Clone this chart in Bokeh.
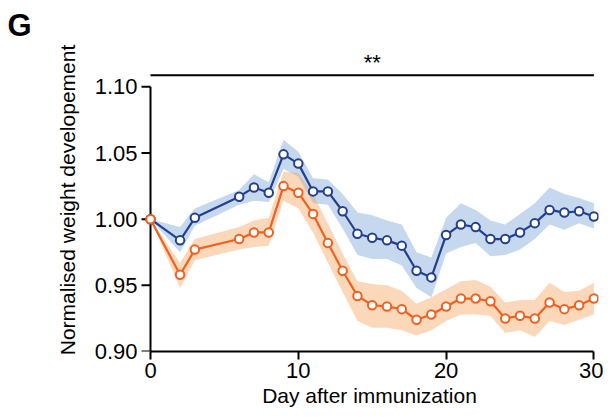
from math import pi
from bokeh.plotting import figure
from bokeh.models import Range1d, FixedTicker, Label, ColumnDataSource
from bokeh.embed import file_html
from bokeh.resources import INLINE

# ---------------- data ----------------
days = [0, 2, 3, 6, 7, 8, 9, 10, 11, 12, 13, 14, 15, 16, 17, 18, 19, 20,
        21, 22, 23, 24, 25, 26, 27, 28, 29, 30]

blue_mean = [1.000, 0.984, 1.001, 1.017, 1.024, 1.020, 1.049, 1.042, 1.021, 1.021,
             1.006, 0.989, 0.986, 0.984, 0.980, 0.961, 0.956, 0.988,
             0.996, 0.994, 0.985, 0.985, 0.990, 0.997, 1.007, 1.005, 1.006, 1.002]
blue_upper = [1.000, 0.994, 1.008, 1.022, 1.034, 1.028, 1.060, 1.051, 1.031, 1.030,
              1.019, 1.005, 1.003, 0.999, 0.996, 0.975, 0.971, 1.001,
              1.012, 1.007, 0.999, 0.996, 1.004, 1.012, 1.024, 1.019, 1.016, 1.012]
blue_lower = [1.000, 0.975, 0.995, 1.011, 1.014, 1.013, 1.038, 1.032, 1.012, 1.011,
              0.993, 0.973, 0.970, 0.970, 0.965, 0.948, 0.941, 0.974,
              0.979, 0.982, 0.972, 0.973, 0.977, 0.985, 0.996, 0.992, 0.997, 0.993]

orange_mean = [1.000, 0.958, 0.977, 0.985, 0.990, 0.990, 1.025, 1.020, 1.004, 0.982,
               0.961, 0.942, 0.935, 0.934, 0.932, 0.924, 0.928, 0.934,
               0.940, 0.940, 0.938, 0.925, 0.927, 0.925, 0.937, 0.932, 0.935, 0.940]
orange_upper = [1.000, 0.967, 0.985, 0.994, 0.999, 1.001, 1.036, 1.035, 1.019, 0.997,
                0.974, 0.953, 0.951, 0.950, 0.946, 0.936, 0.941, 0.947,
                0.953, 0.954, 0.949, 0.937, 0.939, 0.939, 0.952, 0.945, 0.946, 0.952]
orange_lower = [1.000, 0.948, 0.969, 0.977, 0.979, 0.980, 1.014, 1.008, 0.990, 0.967,
                0.945, 0.923, 0.918, 0.918, 0.916, 0.912, 0.916, 0.923,
                0.928, 0.928, 0.927, 0.914, 0.916, 0.911, 0.923, 0.920, 0.924, 0.928]

y_ticks = [0.90, 0.95, 1.00, 1.05, 1.10]
y_tick_labels = {0.90: "0.90", 0.95: "0.95", 1.00: "1.00", 1.05: "1.05", 1.10: "1.10"}
x_ticks = [0, 10, 20, 30]

sig_start, sig_end, sig_level, sig_text = 0, 30, 1.1088, "**"
panel_letter = "G"

# ---------------- styling ----------------
FONT = "Liberation Sans"
BLUE = "#233f8f"
ORANGE = "#f2601f"
X0 = x_ticks[0]

p = figure(width=603, height=409, output_backend="svg", toolbar_location=None,
           x_range=Range1d(-0.677, 30.31), y_range=Range1d(0.90, 1.129),
           min_border_left=140, min_border_right=5, min_border_top=48,
           min_border_bottom=57)
p.outline_line_color = None
p.grid.visible = False
p.background_fill_color = "white"
p.border_fill_color = "white"

src_b = ColumnDataSource(dict(x=days, y=blue_mean, lo=blue_lower, hi=blue_upper))
src_o = ColumnDataSource(dict(x=days, y=orange_mean, lo=orange_lower, hi=orange_upper))

p.varea(x="x", y1="lo", y2="hi", source=src_b, fill_color="#5b8fcf", fill_alpha=0.35)
p.varea(x="x", y1="lo", y2="hi", source=src_o, fill_color="#f7a35c", fill_alpha=0.42)

# y axis line and ticks drawn at day 0 (axis sits on the first day)
p.segment(x0=[X0], y0=[y_ticks[0]], x1=[X0], y1=[y_ticks[-1]],
          line_color="black", line_width=2)
p.ray(x=[X0] * len(y_ticks), y=y_ticks, length=9, length_units="screen",
      angle=pi, line_color="black", line_width=2)

p.line(x="x", y="y", source=src_b, line_color=BLUE, line_width=2.2)
p.line(x="x", y="y", source=src_o, line_color=ORANGE, line_width=2.2)
p.scatter(x="x", y="y", source=src_b, marker="circle", size=8.5,
          fill_color="white", line_color=BLUE, line_width=2)
p.scatter(x="x", y="y", source=src_o, marker="circle", size=8.5,
          fill_color="white", line_color=ORANGE, line_width=2)

# significance bar
p.segment(x0=[sig_start], y0=[sig_level], x1=[sig_end], y1=[sig_level],
          line_color="black", line_width=2)
p.add_layout(Label(x=(sig_start + sig_end) / 2, y=sig_level, text=sig_text,
                   x_units="data", y_units="data", text_align="center",
                   text_baseline="alphabetic", y_offset=13,
                   text_font=FONT, text_font_size="22px", text_color="black"))

# axes
for ax in (p.xaxis[0], p.yaxis[0]):
    ax.axis_line_width = 2
    ax.axis_line_color = "black"
    ax.major_tick_line_width = 2
    ax.major_tick_line_color = "black"
    ax.major_tick_in = 0
    ax.minor_tick_line_color = None
    ax.major_label_text_font = FONT
    ax.major_label_text_font_size = "22px"
    ax.major_label_text_color = "black"
    ax.axis_label_text_font = FONT
    ax.axis_label_text_font_style = "normal"
    ax.axis_label_text_color = "black"

p.xaxis[0].ticker = FixedTicker(ticks=x_ticks)
p.xaxis[0].bounds = (x_ticks[0], x_ticks[-1])
p.xaxis[0].axis_label = "Day after immunization"
p.xaxis[0].axis_label_text_font_size = "21px"
p.xaxis[0].major_tick_out = 8
p.xaxis[0].major_label_standoff = 3
p.xaxis[0].axis_label_standoff = 3

yax = p.yaxis[0]
yax.ticker = FixedTicker(ticks=y_ticks)
yax.major_label_overrides = y_tick_labels
yax.axis_line_color = None
yax.major_tick_line_color = None
yax.major_tick_out = 0
yax.axis_label = "Normalised weight developement"
yax.axis_label_text_font_size = "21px"
yax.major_label_standoff = 3
yax.axis_label_standoff = 13

p.title.text = panel_letter
p.title.text_font = FONT
p.title.text_font_size = "31px"
p.title.text_font_style = "bold"
p.title.text_color = "black"
p.title.align = "left"
p.title.offset = -133
p.title.standoff = 11

open("out.html", "w").write(file_html(p, INLINE))
